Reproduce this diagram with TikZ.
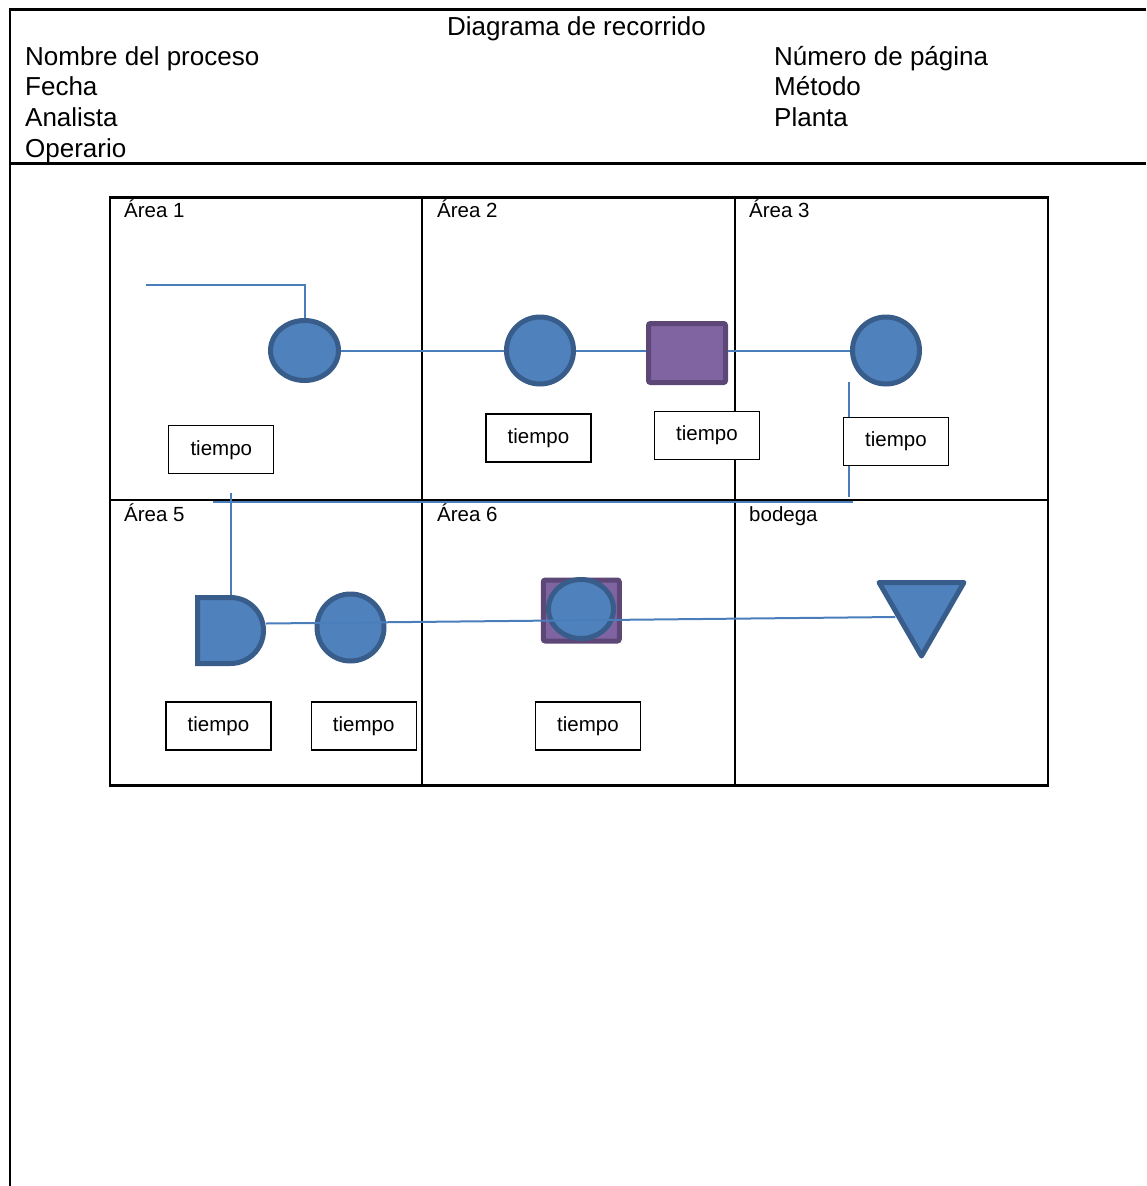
\documentclass[tikz,border=0pt]{standalone}
\usepackage{fontspec}
\setmainfont{Liberation Sans}
\usetikzlibrary{shapes.geometric,shapes.misc,calc}

\definecolor{opfondo}{HTML}{4F81BD}
\definecolor{opborde}{HTML}{385D8A}
\definecolor{insfondo}{HTML}{8064A2}
\definecolor{insborde}{HTML}{5C4776}
\definecolor{flujoazul}{HTML}{4A7EBB}

\begin{document}
\begin{tikzpicture}[
    x=1pt, y=-1pt,
    marco/.style={line width=2.5pt},
    cab/.style={anchor=base west, inner sep=0pt, font=\fontsize{26}{30}\selectfont},
    area/.style={anchor=base west, inner sep=0pt, font=\fontsize{20.5}{24}\selectfont},
    operacion/.style={circle, draw=opborde, fill=opfondo, line width=5pt, minimum size=67pt, inner sep=0pt},
    opovalo/.style={ellipse, draw=opborde, fill=opfondo, line width=5pt, inner sep=0pt},
    inspeccion/.style={rectangle, rounded corners=2pt, draw=insborde, fill=insfondo, line width=5pt, inner sep=0pt},
    demora/.style={rounded rectangle, rounded rectangle left arc=none, draw=opborde, fill=opfondo, line width=5pt, minimum width=66pt, minimum height=66pt, inner sep=0pt},
    almacen/.style={regular polygon, regular polygon sides=3, shape border rotate=180, draw=opborde, fill=opfondo, line width=5pt, line join=round, minimum size=98pt, inner sep=0pt},
    tiempo/.style={draw, fill=white, line width=1.2pt, minimum width=105pt, minimum height=48pt, font=\fontsize{20.5}{24}\selectfont},
    flujo/.style={draw=flujoazul, line width=2pt}
]
\useasboundingbox (0,0) rectangle (1146,1186);

% Encabezado
\draw[marco] (1146,9.5) -- (10,9.5) -- (10,1186);
\draw[marco] (10,163.5) -- (1146,163.5);
\node[cab] (titulo) at (447,35) {Diagrama de recorrido};
\node[cab] (nombre) at (25,65) {Nombre del proceso};
\node[cab] (fecha) at (25,95.5) {Fecha};
\node[cab] (analista) at (25,126.5) {Analista};
\node[cab] (operario) at (25,157) {Operario};
\node[cab] (pagina) at (774,65) {Número de página};
\node[cab] (metodo) at (774,95.5) {Método};
\node[cab] (planta) at (774,126.5) {Planta};

% Plano de areas
\draw[marco] (110,197.5) rectangle (1048,785.5);
\draw[marco] (422,197.5) -- (422,785.5);
\draw[marco] (735,197.5) -- (735,785.5);
\draw[marco] (110,500) -- (1048,500);
\node[area] (a1) at (124,217.5) {Área 1};
\node[area] (a2) at (437,217.5) {Área 2};
\node[area] (a3) at (749,217.5) {Área 3};
\node[area] (a5) at (124,521) {Área 5};
\node[area] (a6) at (437,521) {Área 6};
\node[area] (bod) at (749,521) {bodega};

% Recorrido
\coordinate (inicio) at (146,285);
\coordinate (codo) at (304.5,285);
\coordinate (baja3) at (849,382);
\coordinate (fin3) at (849,497);
\coordinate (retE) at (853,501.5);
\coordinate (retW) at (213,501.5);
\coordinate (baja5) at (230.5,492.5);
\draw[flujo] (baja3) -- (fin3);
\draw[flujo] (retE) -- (retW);

\node[opovalo, minimum width=68pt, minimum height=60pt] (op1) at (304.5,350.5) {};
\node[operacion] (op2) at (540,350.5) {};
\node[inspeccion, minimum width=77pt, minimum height=59pt] (ins2) at (687,353) {};
\node[operacion] (op3) at (886,350.5) {};
\node[demora] (dem5) at (230.5,630.5) {};
\node[operacion] (op5) at (350.5,627.5) {};
\node[inspeccion, minimum width=76pt, minimum height=61pt] (ins6) at (581.3,610.5) {};
\node[opovalo, minimum width=65pt, minimum height=59pt] (op6) at (581,609) {};
\node[almacen] (bodega) at (921.5,607) {};

\node[tiempo] (t1) at (221.3,449.7) {tiempo};
\node[tiempo] (t2a) at (538.5,438) {tiempo};
\node[tiempo] (t2b) at (707,435.3) {tiempo};
\node[tiempo] (t3) at (896,441.3) {tiempo};
\node[tiempo] (t5a) at (218.5,726) {tiempo};
\node[tiempo] (t5b) at (363.7,726) {tiempo};
\node[tiempo] (t6) at (588,726) {tiempo};

\draw[flujo] (inicio) -- (codo) -- (op1.north);
\draw[flujo] (op1) -- (op2);
\draw[flujo] (op2) -- (ins2.west |- op2);
\draw[flujo] (ins2.east |- op3) -- (op3);
\draw[flujo] (baja5) -- (dem5.north);
\draw[flujo] ([yshift=7pt]dem5.east) -- ($(bodega.west)+(5,10)$);
\end{tikzpicture}
\end{document}
